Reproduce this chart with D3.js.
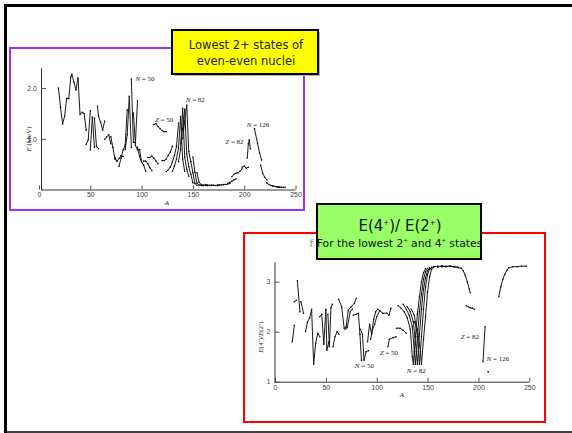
<!DOCTYPE html>
<html>
<head>
<meta charset="utf-8">
<script src="https://d3js.org/d3.v7.min.js"></script>
<style>
  body { margin: 0; background: #fff; }
  svg { display: block; }
  .tick text { font-family: "Liberation Sans", sans-serif; font-size: 7px; fill: #444; }
  .domain { stroke: #333; }
  .tick line { stroke: #555; }
  .note { font-family: "Liberation Serif", serif; font-size: 7px; fill: #222; }
  .chain { fill: none; stroke: #1a1a1a; stroke-width: 1; }
</style>
</head>
<body>
<script>

// ---- data: lowest 2+ energies (A, E in MeV), one array per isotope chain
var e2Chains = [
  [[19,2.0],[21,1.62],[23,1.29],[25,1.45],[27,1.8],[29,1.79],[31,2.22],[32,2.27],[34,2.12],[36,1.96],[38,2.2],[40,1.48],[42,1.52],[44,1.5],[46,1.17]],
  [[46,0.89],[48,0.98],[50,1.55]],
  [[50,0.78],[52,1.43],[54,0.83]],
  [[54,1.41],[56,0.85],[58,0.81]],
  [[57,1.64],[58,1.45],[60,1.33],[62,1.17],[64,1.35]],
  [[64,0.99],[66,1.04],[68,1.08],[70,0.9]],
  [[70,1.04],[72,0.83],[74,0.6],[76,0.56]],
  [[74,0.63],[76,0.56],[78,0.61],[80,0.67],[82,0.65]],
  [[78,0.46],[80,0.62],[82,0.78],[84,0.88],[86,1.57]],
  [[84,0.79],[86,1.08],[88,1.84],[90,0.83]],
  [[90,2.18],[92,0.93],[94,0.92],[96,1.75]],
  [[92,1.51],[94,0.87],[96,0.78],[98,0.79],[100,0.54]],
  [[96,0.83],[98,0.65],[100,0.54],[102,0.48],[104,0.36]],
  [[102,0.56],[104,0.56],[106,0.51],[108,0.43],[110,0.37]],
  [[106,0.63],[108,0.63],[110,0.66],[112,0.62],[114,0.56],[116,0.51]],
  [[112,1.28],[114,1.3],[116,1.24],[118,1.2],[120,1.16],[122,1.14],[124,1.14]],
  [[120,0.57],[122,0.57],[124,0.6],[126,0.67],[128,0.74],[130,0.85]],
  [[124,0.35],[126,0.39],[128,0.44],[130,0.54],[132,0.67],[134,0.85],[136,1.31]],
  [[130,0.36],[132,0.46],[134,0.6],[136,0.82],[138,1.44],[140,0.6],[142,0.36]],
  [[136,0.55],[138,0.79],[140,1.6],[142,0.64],[144,0.4],[146,0.26]],
  [[138,0.9],[140,1.2],[142,1.58],[144,0.7],[146,0.45],[148,0.3],[150,0.13]],
  [[140,1.0],[142,1.35],[144,1.66],[146,0.75],[148,0.55],[150,0.33],[152,0.12],[154,0.08]],
  [[150,0.64],[152,0.34],[154,0.12],[156,0.09],[158,0.08],[160,0.075]],
  [[154,0.33],[156,0.14],[158,0.1],[160,0.087],[162,0.081],[164,0.073]],
  [[162,0.1],[164,0.091],[166,0.081],[168,0.08],[170,0.079]],
  [[168,0.088],[170,0.084],[172,0.079],[174,0.076],[176,0.082]],
  [[174,0.091],[176,0.088],[178,0.093],[180,0.093]],
  [[180,0.1],[182,0.1],[184,0.11],[186,0.12]],
  [[184,0.12],[186,0.14],[188,0.16],[190,0.19],[192,0.21]],
  [[188,0.25],[190,0.3],[192,0.32],[194,0.33],[196,0.36],[198,0.41]],
  [[198,0.44],[200,0.46],[202,0.42],[204,0.44]],
  [[203,0.62],[204,0.9],[205,0.98],[206,0.8]],
  [[210,1.2],[213,0.91],[215,0.72],[217,0.58]],
  [[216,0.48],[218,0.32],[220,0.24],[222,0.19]],
  [[222,0.13],[224,0.1],[226,0.08],[228,0.07]],
  [[228,0.07],[230,0.06],[232,0.055],[234,0.05]],
  [[232,0.05],[234,0.045],[236,0.045],[238,0.045],[240,0.043]]
];
var e2XTicks = [0, 50, 100, 150, 200, 250];
var e2YTicks = [1.0, 2.0];
var e2Notes = [
  {text: "N = 50", A: 94, v: 2.14},
  {text: "N = 82", A: 143, v: 1.72},
  {text: "Z = 50", A: 113, v: 1.34},
  {text: "N = 126", A: 202.5, v: 1.24},
  {text: "Z = 82", A: 181.5, v: 0.9}
];

// ---- data: E(4+)/E(2+) ratio (A, ratio)
var ratioChains = [
  [[17,1.8],[19,2.13]],
  [[19,2.6],[21,2.63]],
  [[22,3.02],[24.5,2.4]],
  [[25.5,2.6],[28,2.37]],
  [[30,2.0],[32,2.2],[34,2.27],[36,2.45],[38,1.35],[40,1.77],[42,1.97],[44,1.9]],
  [[44,2.3],[46,2.35],[48,1.75],[50,2.45],[51,1.63],[53,1.8]],
  [[52,2.35],[53.5,1.7],[55,2.48],[56.5,2.55]],
  [[57,1.7],[59,1.9],[61,2.0],[63,1.95]],
  [[62.5,2.65],[65.5,2.5],[68,2.07],[70,2.1],[72,2.43],[75,2.5],[78,2.57],[80,2.67]],
  [[69,2.05],[71,2.08],[74,2.4],[76,2.45]],
  [[77,2.33],[80,2.35],[82,2.37],[83.5,1.95],[85,1.43]],
  [[84,2.05],[86,1.95],[87.5,1.43],[89.5,1.6],[92,1.62]],
  [[91,1.8],[93,2.15],[95,1.95],[97,2.25],[99,2.4],[101,2.45],[103,2.42]],
  [[94,1.85],[96,2.05],[98,2.15],[100,2.3],[103,2.42],[106,2.37],[110,2.37],[112,2.33],[114,2.47]],
  [[111,1.7],[112.5,1.85],[116,1.88],[119,1.9]],
  [[119.5,2.07],[123,2.07],[126,2.03],[129,1.97]],
  [[121,2.52],[124,2.47],[127,2.4],[130,2.28],[133,2.05],[135,1.5],[136,1.35],[138,1.9],[140,2.35],[142,2.7],[144,3.0],[146,3.18],[148,3.26]],
  [[126,2.55],[129,2.45],[132,2.33],[135,2.1],[137,1.6],[138,1.35],[140,1.9],[142,2.4],[144,2.75],[146,3.05],[148,3.2],[150,3.27]],
  [[130,2.5],[133,2.4],[136,2.2],[139,1.6],[140,1.35],[142,1.95],[144,2.45],[146,2.85],[148,3.08],[150,3.22],[152,3.28]],
  [[134,2.45],[137,2.33],[140,1.9],[142,1.35],[144,1.9],[146,2.45],[148,2.9],[150,3.15],[152,3.25],[154,3.29]],
  [[137,2.2],[140,2.05],[143,1.6],[144,1.35],[146,1.85],[148,2.3],[150,2.8],[152,3.1],[154,3.25],[156,3.3]],
  [[152,3.25],[156,3.3],[160,3.31],[164,3.3],[168,3.31],[172,3.31]],
  [[160,3.29],[164,3.32],[168,3.3],[172,3.31],[176,3.3],[180,3.29]],
  [[172,3.31],[176,3.3],[180,3.28],[183,3.27],[185,3.22],[187,3.13],[189,3.0],[191,2.85],[192,2.78]],
  [[188,2.52],[190,2.5],[192,2.48],[194,2.47],[196,2.45]],
  [[204.5,1.4],[206.5,2.1]],
  [[209.5,1.2],[209.7,1.2]],
  [[220,2.7],[222,2.9],[224,3.05],[226,3.15],[228,3.23],[230,3.28],[234,3.3],[238,3.3],[242,3.31],[247,3.31]]
];
var ratioXTicks = [0, 50, 100, 150, 200, 250];
var ratioYTicks = [1, 2, 3];
var ratioNotes = [
  {text: "N = 50", A: 78.5, v: 1.27},
  {text: "Z = 50", A: 103, v: 1.54},
  {text: "N = 82", A: 129.5, v: 1.17},
  {text: "Z = 82", A: 182.5, v: 1.85},
  {text: "N = 126", A: 208, v: 1.42}
];

var svg = d3.select("body").append("svg")
  .attr("width", 572)
  .attr("height", 433);

svg.append("rect").attr("width", 572).attr("height", 433).attr("fill", "#fff");

// slide frame
svg.append("path")
  .attr("d", "M5.5,433 V5.5 H572")
  .attr("fill", "none").attr("stroke", "#000").attr("stroke-width", 3);
svg.append("line")
  .attr("x1", 4).attr("x2", 572).attr("y1", 432).attr("y2", 432)
  .attr("stroke", "#000").attr("stroke-width", 1.5);

function drawChart(opt) {
  var g = svg.append("g");
  var x = d3.scaleLinear().domain([0, 250]).range(opt.xr);
  var y = d3.scaleLinear().domain(opt.yd).range(opt.yr);

  g.append("g")
    .attr("transform", "translate(0," + opt.yr[0] + ")")
    .call(d3.axisBottom(x).tickValues(opt.xticks).tickSize(-4).tickSizeOuter(0).tickPadding(3))
    .call(a => a.select(".domain").attr("d", "M" + opt.axisX + ",0.5H" + opt.xr[1]));

  g.append("g")
    .attr("transform", "translate(" + opt.axisX + ",0)")
    .call(d3.axisLeft(y).tickValues(opt.yticks).tickFormat(opt.yfmt).tickSize(-5).tickSizeOuter(0).tickPadding(4));

  var line = d3.line().x(d => x(d[0])).y(d => y(d[1]));
  g.selectAll(".chain").data(opt.chains).enter().append("path")
    .attr("class", "chain")
    .attr("d", line);

  g.selectAll(".pt").data(opt.chains.flat()).enter().append("circle")
    .attr("cx", d => x(d[0])).attr("cy", d => y(d[1]))
    .attr("r", 0.8).attr("fill", "#111");

  g.selectAll(".note").data(opt.notes).enter().append("text")
    .attr("class", "note")
    .attr("x", d => x(d.A)).attr("y", d => y(d.v))
    .html(d => "<tspan font-style='italic'>" + d.text[0] + "</tspan>" + d.text.slice(1));

  g.append("text").attr("class", "note")
    .attr("x", opt.aLabel[0]).attr("y", opt.aLabel[1])
    .attr("font-style", "italic").attr("font-size", 6.5)
    .attr("text-anchor", "middle").text("A");

  g.append("text").attr("class", "note")
    .attr("transform", "translate(" + opt.yLabel[0] + "," + opt.yLabel[1] + ") rotate(-90)")
    .attr("font-size", 5.5).attr("text-anchor", "middle")
    .html(opt.yTitle);
}

drawChart({
  xr: [39, 295.5], yd: [0, 2.4], yr: [189.5, 67.8], axisX: 41,
  xticks: e2XTicks, yticks: e2YTicks, yfmt: d3.format(".1f"),
  chains: e2Chains, notes: e2Notes,
  aLabel: [167, 205], yLabel: [30.5, 139],
  yTitle: "<tspan font-style='italic'>E</tspan> (MeV)"
});

drawChart({
  xr: [275, 529.3], yd: [1, 3.4], yr: [381.7, 261.7], axisX: 274.5,
  xticks: ratioXTicks, yticks: ratioYTicks, yfmt: d3.format("d"),
  chains: ratioChains, notes: ratioNotes,
  aLabel: [402, 397], yLabel: [263, 337],
  yTitle: "<tspan font-style='italic'>E</tspan>(4<tspan dy='-2' font-size='4'>+</tspan><tspan dy='2'>)/</tspan><tspan font-style='italic'>E</tspan>(2<tspan dy='-2' font-size='4'>+</tspan><tspan dy='2'>)</tspan>"
});

// frames around the two pictures
svg.append("rect").attr("x", 10).attr("y", 48).attr("width", 294).attr("height", 162)
  .attr("fill", "none").attr("stroke", "#9b30ff").attr("stroke-width", 2);
svg.append("rect").attr("x", 244).attr("y", 233).attr("width", 301).attr("height", 189)
  .attr("fill", "none").attr("stroke", "#ff0000").attr("stroke-width", 2);

// yellow title box
svg.append("rect").attr("x", 174).attr("y", 32).attr("width", 146).attr("height", 44).attr("fill", "#b8b8b8");
svg.append("rect").attr("x", 172).attr("y", 30).attr("width", 146).attr("height", 44)
  .attr("fill", "#ffff00").attr("stroke", "#000").attr("stroke-width", 2);
var yt = svg.append("text").attr("text-anchor", "middle")
  .attr("font-family", "DejaVu Sans, sans-serif").attr("font-size", 11.5).attr("fill", "#222");
yt.append("tspan").attr("x", 246).attr("y", 49).text("Lowest 2+ states of");
yt.append("tspan").attr("x", 246).attr("y", 65).text("even-even nuclei");

// green title box
svg.append("text").attr("x", 309.5).attr("y", 247)
  .attr("font-family", "DejaVu Sans, sans-serif").attr("font-size", 11).attr("fill", "#999").text("f");
svg.append("rect").attr("x", 317).attr("y", 204).attr("width", 164).attr("height", 55)
  .attr("fill", "#99ff66").attr("stroke", "#000").attr("stroke-width", 2);
svg.append("text").attr("x", 400).attr("y", 231).attr("text-anchor", "middle")
  .attr("font-family", "DejaVu Sans, sans-serif").attr("font-size", 15).attr("fill", "#111")
  .html("E(4<tspan dy='-6' font-size='7'>+</tspan><tspan dy='6'>)/ E(2</tspan><tspan dy='-6' font-size='7'>+</tspan><tspan dy='6'>)</tspan>");
svg.append("text").attr("x", 399.5).attr("y", 247).attr("text-anchor", "middle")
  .attr("font-family", "DejaVu Sans, sans-serif").attr("font-size", 10.8).attr("fill", "#111")
  .html("For the lowest 2<tspan dy='-5' font-size='5'>+</tspan><tspan dy='5'> and 4</tspan><tspan dy='-5' font-size='5'>+</tspan><tspan dy='5'> states</tspan>");

</script>
</body>
</html>
